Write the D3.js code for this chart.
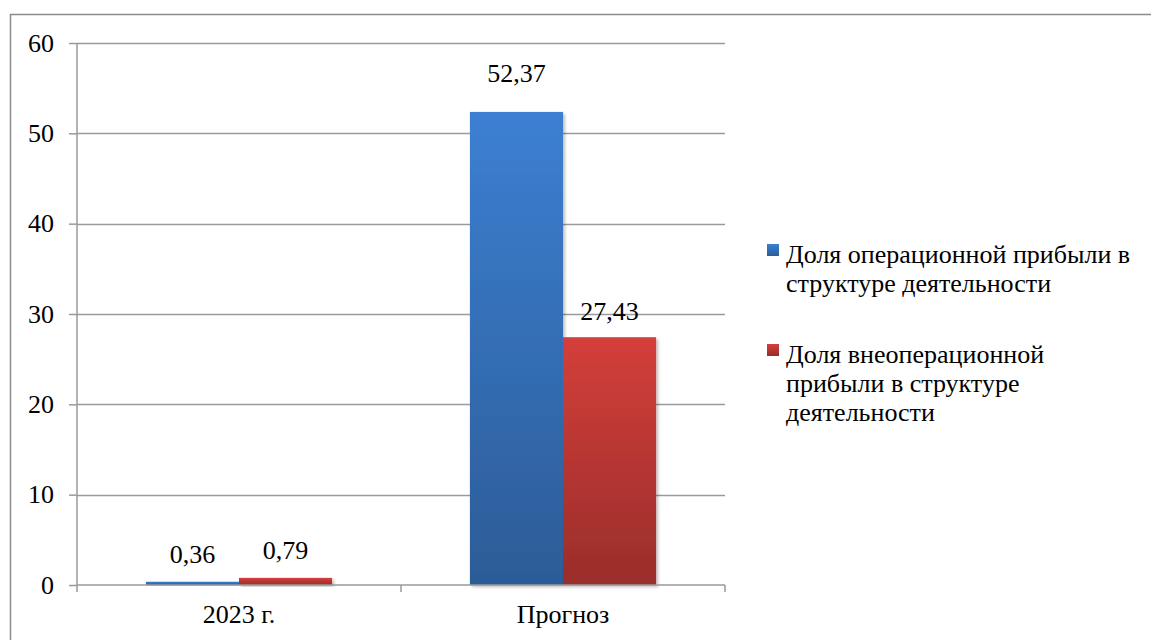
<!DOCTYPE html>
<html><head><meta charset="utf-8">
<script src="https://cdn.jsdelivr.net/npm/d3@7"></script>
<style>body{margin:0;background:#fff}svg{display:block}</style>
</head><body><svg id="c" width="1151" height="640"></svg>
<script>
const categories = ["2023 г.", "Прогноз"];
const seriesNames = ["Доля операционной прибыли в структуре деятельности", "Доля внеоперационной прибыли в структуре деятельности"];
const opShare = [0.36, 52.37];
const nonOpShare = [0.79, 27.43];
const yTicks = [0, 10, 20, 30, 40, 50, 60];
const legendLines = [["Доля операционной прибыли в", "структуре деятельности"], ["Доля внеоперационной", "прибыли в структуре", "деятельности"]];

(function () {
const FONT = "Liberation Serif, Tinos, Times New Roman, Times, serif";
const FS = 26;
const svg = d3.select("#c").attr("font-family", FONT);
const defs = svg.append("defs");
const grads = [["gb", "#3c7fd2", "#2c5c97"], ["gr", "#d43f3b", "#992d2a"]];
grads.forEach(([id, a, b]) => {
  const g = defs.append("linearGradient").attr("id", id).attr("x1", 0).attr("y1", 0).attr("x2", 0).attr("y2", 1);
  g.append("stop").attr("offset", "0%").attr("stop-color", a);
  g.append("stop").attr("offset", "100%").attr("stop-color", b);
});
const f = defs.append("filter").attr("id", "sh").attr("x", "-10%").attr("y", "-10%").attr("width", "130%").attr("height", "130%");
f.append("feDropShadow").attr("dx", 2).attr("dy", 2).attr("stdDeviation", 1.5).attr("flood-color", "#000").attr("flood-opacity", 0.25);

svg.append("path").attr("d", "M10.5,660 V14.5 H1160").attr("fill", "none").attr("stroke", "#8c8c8c").attr("stroke-width", 1.5);

const pL = 77, pR = 725, pT = 43, pB = 585;
const y = d3.scaleLinear().domain([0, 60]).range([pB, pT]);
const x0 = d3.scaleBand().domain(categories).range([pL, pR]).paddingInner(0).paddingOuter(0);
const x1 = d3.scaleBand().domain([0, 1]).range([0, x0.bandwidth()]).paddingInner(0).paddingOuter(0.74);

const gridC = "#9a9a9a";
svg.append("g").selectAll("line").data(yTicks.filter(d => d > 0)).join("line")
  .attr("x1", pL).attr("x2", pR).attr("y1", d => Math.round(y(d)) + 0.5).attr("y2", d => Math.round(y(d)) + 0.5)
  .attr("stroke", gridC).attr("stroke-width", 1.5);

const ya = svg.append("g").attr("transform", `translate(${pL},0)`)
  .call(d3.axisLeft(y).tickValues(yTicks).tickSize(8).tickPadding(15).tickFormat(d3.format("d")));
ya.attr("font-family", FONT).attr("font-size", FS);
ya.select(".domain").attr("stroke", gridC).attr("stroke-width", 1.5).attr("d", `M0,${pB}V${pT}`);
ya.selectAll(".tick line").attr("stroke", gridC).attr("stroke-width", 1.5);
ya.selectAll(".tick text").attr("fill", "#000");

const series = [opShare, nonOpShare];
const fills = ["url(#gb)", "url(#gr)"];
series.forEach((vals, si) => {
  svg.append("g").selectAll("rect").data(vals).join("rect")
    .attr("x", (d, i) => x0(categories[i]) + x1(si))
    .attr("width", x1.bandwidth())
    .attr("y", d => y(d)).attr("height", d => y(0) - y(d))
    .attr("fill", fills[si]).attr("filter", "url(#sh)");
});

const xa = svg.append("g").attr("transform", `translate(0,${pB})`)
  .call(d3.axisBottom(x0).tickSize(0).tickPadding(20));
xa.attr("font-family", FONT).attr("font-size", FS);
xa.select(".domain").attr("stroke", gridC).attr("stroke-width", 1.5).attr("d", `M${pL},0H${pR}`);
xa.selectAll(".tick text").attr("fill", "#000");
svg.append("g").selectAll("line").data([pL, x0(categories[1]), pR]).join("line")
  .attr("x1", d => d).attr("x2", d => d).attr("y1", pB).attr("y2", pB + 7)
  .attr("stroke", gridC).attr("stroke-width", 1.5);

const fmt = v => d3.format(".2f")(v).replace(".", ",");
const labelLift = [[18.5, 18.5], [30, 17]];
series.forEach((vals, si) => {
  svg.append("g").attr("font-size", FS).selectAll("text").data(vals).join("text")
    .attr("x", (d, i) => x0(categories[i]) + x1(si) + x1.bandwidth() / 2)
    .attr("y", (d, i) => y(d) - labelLift[i][si])
    .attr("text-anchor", "middle").attr("fill", "#000")
    .text(d => fmt(d));
});

const legY = [263, 363];
legendLines.forEach((lines, i) => {
  const g = svg.append("g").attr("font-size", FS);
  g.append("rect").attr("x", 767).attr("y", legY[i] - 19).attr("width", 12).attr("height", 12).attr("fill", fills[i]);
  lines.forEach((t, j) => g.append("text").attr("x", 786).attr("y", legY[i] + j * 28.8)
    .attr("fill", "#000").text(t));
});
})();
</script></body></html>
